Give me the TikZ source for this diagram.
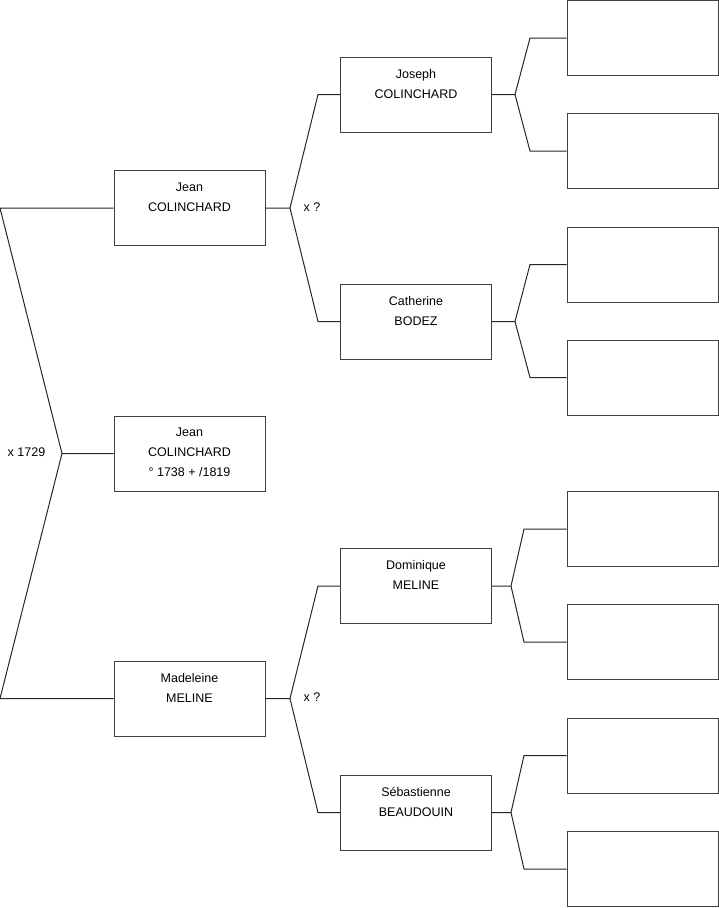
\documentclass[tikz,border=0pt]{standalone}
\usepackage{fontspec}
\setmainfont{Liberation Sans}
\usetikzlibrary{positioning,calc}
\tikzset{
  person/.style = {rectangle, draw=black!75, line width=1pt, minimum width=151pt,
                   minimum height=75pt, inner sep=0pt},
  pname/.style  = {align=center, font=\fontsize{12.5}{20}\selectfont, inner sep=0pt},
  link/.style   = {draw=black!85, line width=1pt},
  tag/.style    = {font=\fontsize{12.5}{15}\selectfont, inner sep=0pt},
}

\begin{document}
\begin{tikzpicture}[x=1pt,y=-1pt]
    \useasboundingbox (0,0) rectangle (719,908);
    % generation 0
    \node[person] (root) at (189.5,453.5) {};
    \node[pname, below=12.5pt of root.north] (rootname) {Jean\\COLINCHARD\\° 1738 + /1819};
    % parents
    \node[person] (fa) at (189.5,208) {};
    \node[pname, below=12.5pt of fa.north] (faname) {Jean\\COLINCHARD};
    \node[person] (mo) at (189.5,698.5) {};
    \node[pname, below=12.5pt of mo.north] (moname) {Madeleine\\MELINE};
    % grandparents
    \node[person] (ff) at (416,94.5) {};
    \node[pname, below=12.5pt of ff.north] (ffname) {Joseph\\COLINCHARD};
    \node[person] (fm) at (416,321.5) {};
    \node[pname, below=12.5pt of fm.north] (fmname) {Catherine\\BODEZ};
    \node[person] (mf) at (416,586) {};
    \node[pname, below=12.5pt of mf.north] (mfname) {Dominique\\MELINE};
    \node[person] (mm) at (416,812.5) {};
    \node[pname, below=12.5pt of mm.north] (mmname) {Sébastienne\\BEAUDOUIN};
    % great-grandparents (empty)
    \node[person] (fff) at (642.5,38) {};
    \node[person] (ffm) at (642.5,151) {};
    \node[person] (fmf) at (642.5,264.5) {};
    \node[person] (fmm) at (642.5,377.5) {};
    \node[person] (mff) at (642.5,529) {};
    \node[person] (mfm) at (642.5,642) {};
    \node[person] (mmf) at (642.5,755.5) {};
    \node[person] (mmm) at (642.5,869) {};
    % junctions
    \coordinate (j0) at (62,453.5);
    \coordinate (j0a) at (0,208);
    \coordinate (j0b) at (0,698.5);
    \coordinate (j1) at (290,208);
    \coordinate (j1a) at (318,94.5);
    \coordinate (j1b) at (318,321.5);
    \coordinate (j2) at (290,698.5);
    \coordinate (j2a) at (318,586);
    \coordinate (j2b) at (318,812.5);
    \coordinate (j3) at (515,94.5);
    \coordinate (j3a) at (530,38);
    \coordinate (j3b) at (530,151);
    \coordinate (j4) at (515,321.5);
    \coordinate (j4a) at (530,264.5);
    \coordinate (j4b) at (530,377.5);
    \coordinate (j5) at (511,586);
    \coordinate (j5a) at (524,529);
    \coordinate (j5b) at (524,642);
    \coordinate (j6) at (511,812.5);
    \coordinate (j6a) at (524,755.5);
    \coordinate (j6b) at (524,869);
    % edges
    \draw[link] (root.west) -- (j0) -- (j0a) -- (fa.west);
    \draw[link] (j0) -- (j0b) -- (mo.west);
    \draw[link] (fa.east) -- (j1) -- (j1a) -- (ff.west);
    \draw[link] (j1) -- (j1b) -- (fm.west);
    \draw[link] (mo.east) -- (j2) -- (j2a) -- (mf.west);
    \draw[link] (j2) -- (j2b) -- (mm.west);
    \draw[link] (ff.east) -- (j3) -- (j3a) -- (fff.west);
    \draw[link] (j3) -- (j3b) -- (ffm.west);
    \draw[link] (fm.east) -- (j4) -- (j4a) -- (fmf.west);
    \draw[link] (j4) -- (j4b) -- (fmm.west);
    \draw[link] (mf.east) -- (j5) -- (j5a) -- (mff.west);
    \draw[link] (j5) -- (j5b) -- (mfm.west);
    \draw[link] (mm.east) -- (j6) -- (j6a) -- (mmf.west);
    \draw[link] (j6) -- (j6b) -- (mmm.west);
    % marriages
    \node[tag] (m0) at (26.5,452) {x 1729};
    \node[tag] (m1) at (312,207.5) {x ?};
    \node[tag] (m2) at (312,697.5) {x ?};
\end{tikzpicture}
\end{document}
